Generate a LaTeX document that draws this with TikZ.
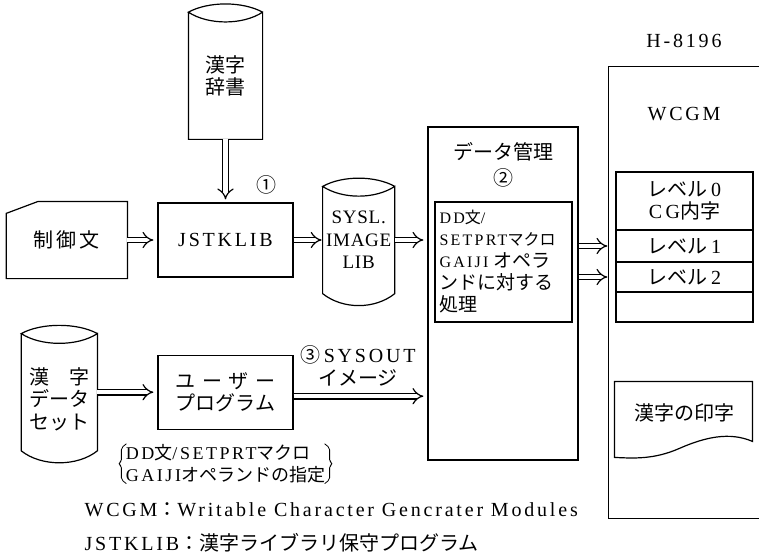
\documentclass[tikz,border=0pt]{standalone}
\usepackage{fontspec}
\setmainfont[LetterSpace=14]{Liberation Serif}
\newfontfamily\jp{Noto Sans CJK JP}
\usetikzlibrary{arrows.meta,positioning,calc}
\newcommand{\bigjp}[1]{{\jp\fontsize{19}{22}\selectfont #1}}

\begin{document}
\begin{tikzpicture}[x=1pt, y=-1pt, line width=1.2pt,
    every node/.style={font=\fontsize{20}{22.5}\selectfont, inner sep=2pt},
    box/.style={draw, minimum width=135pt, minimum height=74pt, align=center},
    shapenode/.style={inner sep=0pt, align=center},
    row/.style={draw, outer sep=0pt, minimum width=137pt, align=center},
    dbl/.style={double, double distance=4.5pt, line width=1.2pt, -{Implies[scale=1.6]}, shorten >=4pt}]

  \path[use as bounding box, fill=white] (0,0) rectangle (759,556);

  % programs
  \node[box] (jstk) at (225.5,240) {JSTKLIB};
  \node[box, below=77pt of jstk] (user) {{\jp\makebox[100pt][s]{ユ\hfill ー\hfill ザ\hfill ー}}\\{\jp プログラム}};
  \node at (266,185) (numone) {\jp ①};

  % control card
  \node[shapenode, minimum width=120pt, minimum height=76pt, left=30pt of jstk] (ctrl) {\jp\makebox[66pt][s]{制\hfill 御\hfill 文}};
  \draw (ctrl.south west) -- ($(ctrl.north west)+(0,12)$) -- ($(ctrl.north west)+(32,0)$) -- (ctrl.north east) -- (ctrl.south east) -- cycle;

  % kanji dictionary
  \node[shapenode, minimum width=73pt, minimum height=126pt, above=63pt of jstk] (dict) {{\jp 漢字}\\{\jp 辞書}};
  \draw (dict.north east) .. controls +(-20,-11) and +(20,-11) .. (dict.north west)
    .. controls +(20,13) and +(-20,13) .. (dict.north east) -- (dict.south east) -- (dict.south west) -- (dict.north west);

  % sysl image lib
  \node[shapenode, minimum width=71pt, minimum height=106pt, right=29pt of jstk,
    font=\fontsize{19}{22.5}\selectfont\addfontfeature{LetterSpace=4}] (sysl) {SYSL.\\IMAGE\\LIB};
  \draw (sysl.north east) .. controls +(-20,-11) and +(20,-11) .. (sysl.north west)
    .. controls +(20,13) and +(-20,13) .. (sysl.north east) -- (sysl.south east)
    .. controls +(-20,16) and +(20,16) .. (sysl.south west) -- (sysl.north west);

  % kanji data set
  \node[shapenode, minimum width=75pt, minimum height=116pt, left=60pt of user] (kset) {};
  \node[align=center] (ksettext) at ($(kset)+(0,7)$) {{\jp\makebox[60pt][s]{漢\hfill 字}}\\{\jp データ}\\{\jp セット}};
  \draw (kset.north east) .. controls +(-20,-11) and +(20,-11) .. (kset.north west)
    .. controls +(20,13) and +(-20,13) .. (kset.north east) -- (kset.south east)
    .. controls +(-20,16) and +(20,16) .. (kset.south west) -- (kset.north west);

  % note under user program
  \node[below=12pt of user, font=\fontsize{18}{22}\selectfont, align=left] (usernote) {DD{\jp 文}/SETPRT{\jp マクロ}\\GAIJI{\jp オペランドの指定}};
  \draw[line width=0.8pt, rounded corners=2pt] ($(usernote.north west)+(3,2)$) -- ($(usernote.north west)+(-2,6)$) -- ($(usernote.west)+(-2,-2)$)
    -- ($(usernote.west)+(-5,0)$) -- ($(usernote.west)+(-2,2)$) -- ($(usernote.south west)+(-2,-6)$) -- ($(usernote.south west)+(3,-2)$);
  \draw[line width=0.8pt, rounded corners=2pt] ($(usernote.north east)+(-3,2)$) -- ($(usernote.north east)+(2,6)$) -- ($(usernote.east)+(2,-2)$)
    -- ($(usernote.east)+(5,0)$) -- ($(usernote.east)+(2,2)$) -- ($(usernote.south east)+(2,-6)$) -- ($(usernote.south east)+(-3,-2)$);

  % data management
  \node[draw, minimum width=150pt, minimum height=333pt] (data) at (503,293.5) {};
  \node[below=13pt of data.north, align=center] (datatitle) {{\jp データ管理}\\[4pt]{\jp ②}};
  \node[draw, minimum width=137pt, minimum height=120pt, text width=128pt, align=left, font=\fontsize{16}{22}\selectfont] (proc) at (503.5,262)
    {DD{\jp 文}/\\SETPRT{\jp マクロ}\\GAIJI \bigjp{オペラ}\\\bigjp{ンドに対する}\\\bigjp{処理}};

  \node[align=center] (sysoutlbl) at (358,366) {{\jp ③}\,SYSOUT\\{\jp イメージ}};

  % H-8196
  \node[minimum width=150pt, minimum height=451pt] (wcgm) at (684,292.5) {};
  \draw (wcgm.north east) -- (wcgm.north west) -- (wcgm.south west) -- (wcgm.south east);
  \node[above=16pt of wcgm.north] (hname) {H-8196};
  \node[below=38pt of wcgm.north] (wcgmname) {WCGM};

  \node[row, minimum height=58pt] (lvzero) at (684.5,201) {{\jp レベル}\,0\\C\,G{\jp 内字}};
  \node[row, minimum height=32pt, below=0pt of lvzero] (lvone) {{\jp レベル}\,1};
  \node[row, minimum height=30pt, below=0pt of lvone] (lvtwo) {{\jp レベル}\,2};
  \node[row, minimum height=30pt, below=0pt of lvtwo] (lvspare) {};

  \node[shapenode, minimum width=138pt, minimum height=62pt] (print) at (684,413) {\jp 漢字の印字};
  \begin{scope}[shift={(print.north west)}]
    \draw (0,0) -- (138,0) -- (138,60) .. controls (115,50) and (90,56) .. (65,67)
      .. controls (40,78) and (20,77) .. (0,76) -- cycle;
  \end{scope}

  % connectors
  \draw[dbl, shorten >=3pt] (dict.south) -- (dict.south |- jstk.north);
  \draw[dbl] (ctrl) -- (jstk);
  \draw[dbl, shorten >=1pt] (jstk) -- (sysl);
  \draw[dbl] (sysl.east) -- (sysl.east -| data.west);
  \draw[dbl] (kset) -- (user);
  \draw[dbl] ($(user.east)+(0,4)$) -- ($(user.east -| data.west)+(0,4)$);
  \draw[dbl, shorten >=1pt] (data.east |- lvone) -- (lvone -| wcgm.west);
  \draw[dbl, shorten >=1pt] (data.east |- lvtwo) -- (lvtwo -| wcgm.west);

  % legend
  \node[anchor=west] (legwcgm) at (82,510) {WCGM{\jp ：}Writable Character Gencrater Modules};
  \node[anchor=west] (legjstk) at (82,543) {JSTKLIB{\jp ：漢字ライブラリ保守プログラム}};
\end{tikzpicture}
\end{document}
